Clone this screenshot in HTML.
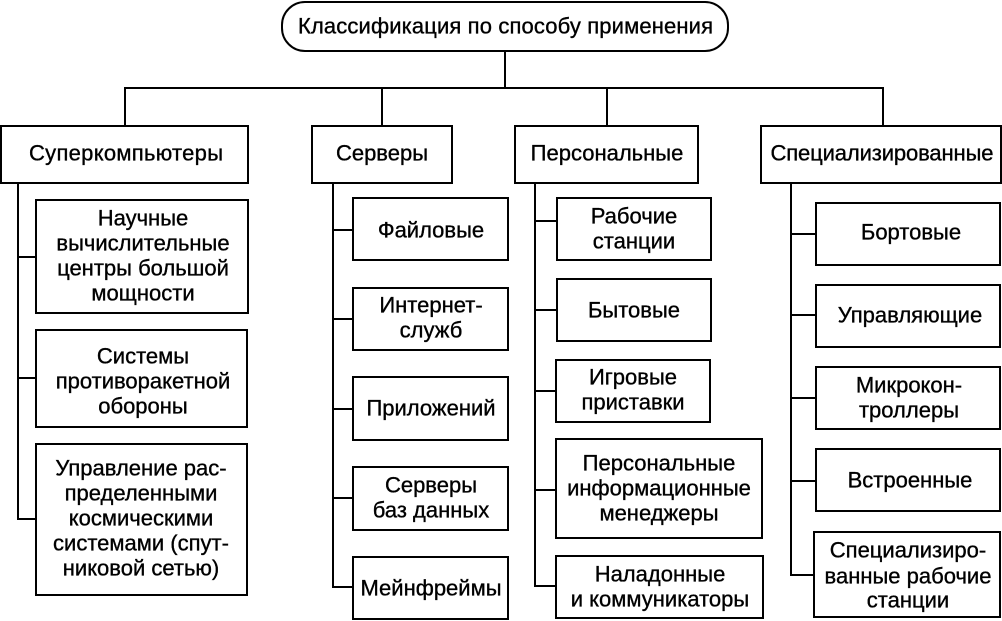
<!DOCTYPE html>
<html lang="ru"><head><meta charset="utf-8"><title>Классификация по способу применения</title>
<style>
html,body{margin:0;padding:0;background:#fff}
svg{display:block}
text{font-family:"Liberation Sans",sans-serif;font-size:22px;fill:#000;text-anchor:middle;stroke:#000;stroke-width:.35px}
.b{fill:#fff;stroke:#000;stroke-width:2}
.l{fill:none;stroke:#000;stroke-width:2}
</style></head><body>
<svg width="1002" height="621" viewBox="0 0 1002 621" xmlns="http://www.w3.org/2000/svg">
<path class="l" d="M505 51V88M125 126V88H883V126M382 88V126M607 88V126"/>
<path class="l" d="M18 183V519H36M18 257H36M18 378H36"/>
<path class="l" d="M333 183V587H353M333 230H353M333 319H353M333 409H353M333 498H353"/>
<path class="l" d="M535 183V586H556M535 221H557M535 310H557M535 391H556M535 490H556"/>
<path class="l" d="M791 183V575H814M791 234H816M791 315H816M791 398H816M791 481H816"/>
<rect class="b" x="282" y="2" width="446" height="49" rx="23"/>
<rect class="b" x="1" y="126" width="247" height="57"/>
<rect class="b" x="312" y="126" width="140" height="57"/>
<rect class="b" x="515" y="126" width="183" height="57"/>
<rect class="b" x="761" y="126" width="240" height="57"/>
<rect class="b" x="36" y="200" width="212" height="113"/>
<rect class="b" x="36" y="330" width="211" height="97"/>
<rect class="b" x="36" y="444" width="211" height="151"/>
<rect class="b" x="353" y="198" width="155" height="62"/>
<rect class="b" x="353" y="288" width="155" height="62"/>
<rect class="b" x="353" y="377" width="155" height="63"/>
<rect class="b" x="353" y="467" width="155" height="63"/>
<rect class="b" x="353" y="557" width="155" height="62"/>
<rect class="b" x="557" y="198" width="154" height="62"/>
<rect class="b" x="557" y="279" width="154" height="62"/>
<rect class="b" x="556" y="360" width="154" height="62"/>
<rect class="b" x="556" y="439" width="206" height="99"/>
<rect class="b" x="556" y="556" width="207" height="62"/>
<rect class="b" x="816" y="203" width="184" height="62"/>
<rect class="b" x="816" y="285" width="184" height="62"/>
<rect class="b" x="816" y="367" width="184" height="62"/>
<rect class="b" x="816" y="449" width="184" height="62"/>
<rect class="b" x="814" y="532" width="186" height="85"/>
<g transform="translate(0,.6)">
<text x="505.500" y="33" textLength="415">Классификация по способу применения</text>
<text x="126" y="160" textLength="194">Суперкомпьютеры</text>
<text x="382" y="160">Серверы</text>
<text x="607" y="160">Персональные</text>
<text x="882" y="160" textLength="223">Специализированные</text>
<text x="143" y="225">Научные</text>
<text x="143" y="250">вычислительные</text>
<text x="143" y="275">центры большой</text>
<text x="143" y="300">мощности</text>
<text x="143" y="363">Системы</text>
<text x="143" y="388">противоракетной</text>
<text x="143" y="413">обороны</text>
<text x="141" y="475">Управление рас-</text>
<text x="141" y="500">пределенными</text>
<text x="141" y="525">космическими</text>
<text x="141" y="550">системами (спут-</text>
<text x="141" y="575">никовой сетью)</text>
<text x="431" y="237">Файловые</text>
<text x="431" y="312">Интернет-</text>
<text x="431" y="337">служб</text>
<text x="431" y="415">Приложений</text>
<text x="431" y="492">Серверы</text>
<text x="431" y="517">баз данных</text>
<text x="431" y="595">Мейнфреймы</text>
<text x="634" y="223">Рабочие</text>
<text x="634" y="248">станции</text>
<text x="634" y="317">Бытовые</text>
<text x="633" y="384">Игровые</text>
<text x="633" y="409">приставки</text>
<text x="659" y="470">Персональные</text>
<text x="659" y="495">информационные</text>
<text x="659" y="520">менеджеры</text>
<text x="660" y="581">Наладонные</text>
<text x="660" y="606">и коммуникаторы</text>
<text x="911" y="239">Бортовые</text>
<text x="910" y="322">Управляющие</text>
<text x="909" y="392">Микрокон-</text>
<text x="909" y="417">троллеры</text>
<text x="910" y="487">Встроенные</text>
<text x="908" y="557">Специализиро-</text>
<text x="908" y="583">ванные рабочие</text>
<text x="908" y="607">станции</text>
</g>
</svg>
</body></html>
